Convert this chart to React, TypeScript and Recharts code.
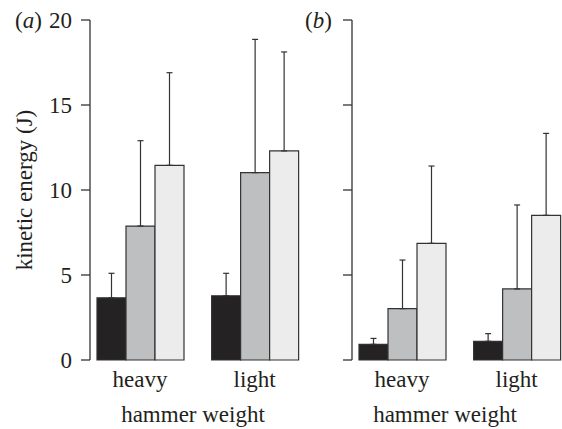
import React from 'react';
import { BarChart, Bar, XAxis, YAxis, ErrorBar, Label } from 'recharts';

const categories = ['heavy', 'light'];
const yTicks = [0, 5, 10, 15, 20];

// panel (a)
const aBlack = [3.66, 3.78];
const aBlackErr = [1.44, 1.32];
const aGray = [7.88, 11.02];
const aGrayErr = [5.02, 7.84];
const aLight = [11.45, 12.3];
const aLightErr = [5.45, 5.82];

// panel (b)
const bBlack = [0.92, 1.1];
const bBlackErr = [0.35, 0.45];
const bGray = [3.02, 4.18];
const bGrayErr = [2.86, 4.94];
const bLight = [6.86, 8.51];
const bLightErr = [4.55, 4.82];

const build = (k: number[], kE: number[], g: number[], gE: number[], l: number[], lE: number[]) =>
  categories.map((cat, i) => ({
    cat,
    black: k[i],
    blackErr: [0, kE[i]],
    gray: g[i],
    grayErr: [0, gE[i]],
    light: l[i],
    lightErr: [0, lE[i]],
  }));

const dataA = build(aBlack, aBlackErr, aGray, aGrayErr, aLight, aLightErr);
const dataB = build(bBlack, bBlackErr, bGray, bGrayErr, bLight, bLightErr);

const FONT = "'Liberation Serif', 'Times New Roman', serif";
const INK = '#231f20';
const LINE = '#333333';
const FS = 23;

function Panel({ data, left, showLabels, xLabelDx }: { data: any[]; left: number; showLabels: boolean; xLabelDx: number }) {
  return (
    <div style={{ position: 'absolute', left, top: 0, fontFamily: FONT }}>
      <BarChart
        width={312}
        height={429}
        data={data}
        margin={{ top: 20, right: 0, bottom: 0, left: 0 }}
        barCategoryGap={14.25}
        barGap={0}
      >
        <XAxis
          dataKey="cat"
          axisLine={false}
          tickLine={false}
          tickMargin={5}
          height={69}
          interval={0}
          padding={{ left: -7.25, right: 0 }}
          tick={{ fill: INK, fontSize: FS, fontFamily: FONT }}
        >
          <Label
            content={(p: any) => {
              const vb = p.viewBox || {};
              return (
                <text
                  x={vb.x + vb.width / 2 + xLabelDx}
                  y={vb.y + 62}
                  textAnchor="middle"
                  fill={INK}
                  fontFamily={FONT}
                  fontSize={FS}
                >
                  hammer weight
                </text>
              );
            }}
          />
        </XAxis>
        <YAxis
          domain={[0, 20]}
          ticks={yTicks}
          interval={0}
          width={90}
          tickSize={9}
          tickMargin={9}
          axisLine={{ stroke: LINE, strokeWidth: 1.3 }}
          tickLine={{ stroke: LINE, strokeWidth: 1.3 }}
          tick={showLabels ? { fill: INK, fontSize: FS, fontFamily: FONT } : () => <g />}
        >
          {showLabels && (
            <Label
              content={(p: any) => {
                const vb = p.viewBox || {};
                const cx = 32;
                const cy = vb.y + vb.height / 2;
                return (
                  <text
                    x={cx}
                    y={cy}
                    textAnchor="middle"
                    transform={`rotate(-90, ${cx}, ${cy})`}
                    fill={INK}
                    fontFamily={FONT}
                    fontSize={FS}
                  >
                    kinetic energy (J)
                  </text>
                );
              }}
            />
          )}
        </YAxis>
        <Bar dataKey="black" fill="#252223" stroke={LINE} strokeWidth={1.2} isAnimationActive={false}>
          <ErrorBar dataKey="blackErr" width={3} stroke={LINE} strokeWidth={1.2} direction="y" />
        </Bar>
        <Bar dataKey="gray" fill="#bebfc1" stroke={LINE} strokeWidth={1.2} isAnimationActive={false}>
          <ErrorBar dataKey="grayErr" width={3} stroke={LINE} strokeWidth={1.2} direction="y" />
        </Bar>
        <Bar dataKey="light" fill="#ececec" stroke={LINE} strokeWidth={1.2} isAnimationActive={false}>
          <ErrorBar dataKey="lightErr" width={3} stroke={LINE} strokeWidth={1.2} direction="y" />
        </Bar>
      </BarChart>
    </div>
  );
}

const tagStyle: React.CSSProperties = {
  position: 'absolute',
  top: 9,
  fontFamily: FONT,
  fontSize: FS,
  lineHeight: '23px',
  color: INK,
  whiteSpace: 'nowrap',
};

export default function App() {
  return (
    <div
      style={{
        position: 'absolute',
        left: 0,
        top: 0,
        width: 562,
        height: 429,
        overflow: 'hidden',
        background: '#ffffff',
        fontFamily: FONT,
      }}
    >
      <Panel data={dataA} left={0} showLabels={true} xLabelDx={-8} />
      <Panel data={dataB} left={262} showLabels={false} xLabelDx={-18} />
      <div style={{ ...tagStyle, left: 15 }}>
        (<i>a</i>)
      </div>
      <div style={{ ...tagStyle, left: 305 }}>
        (<i>b</i>)
      </div>
    </div>
  );
}
